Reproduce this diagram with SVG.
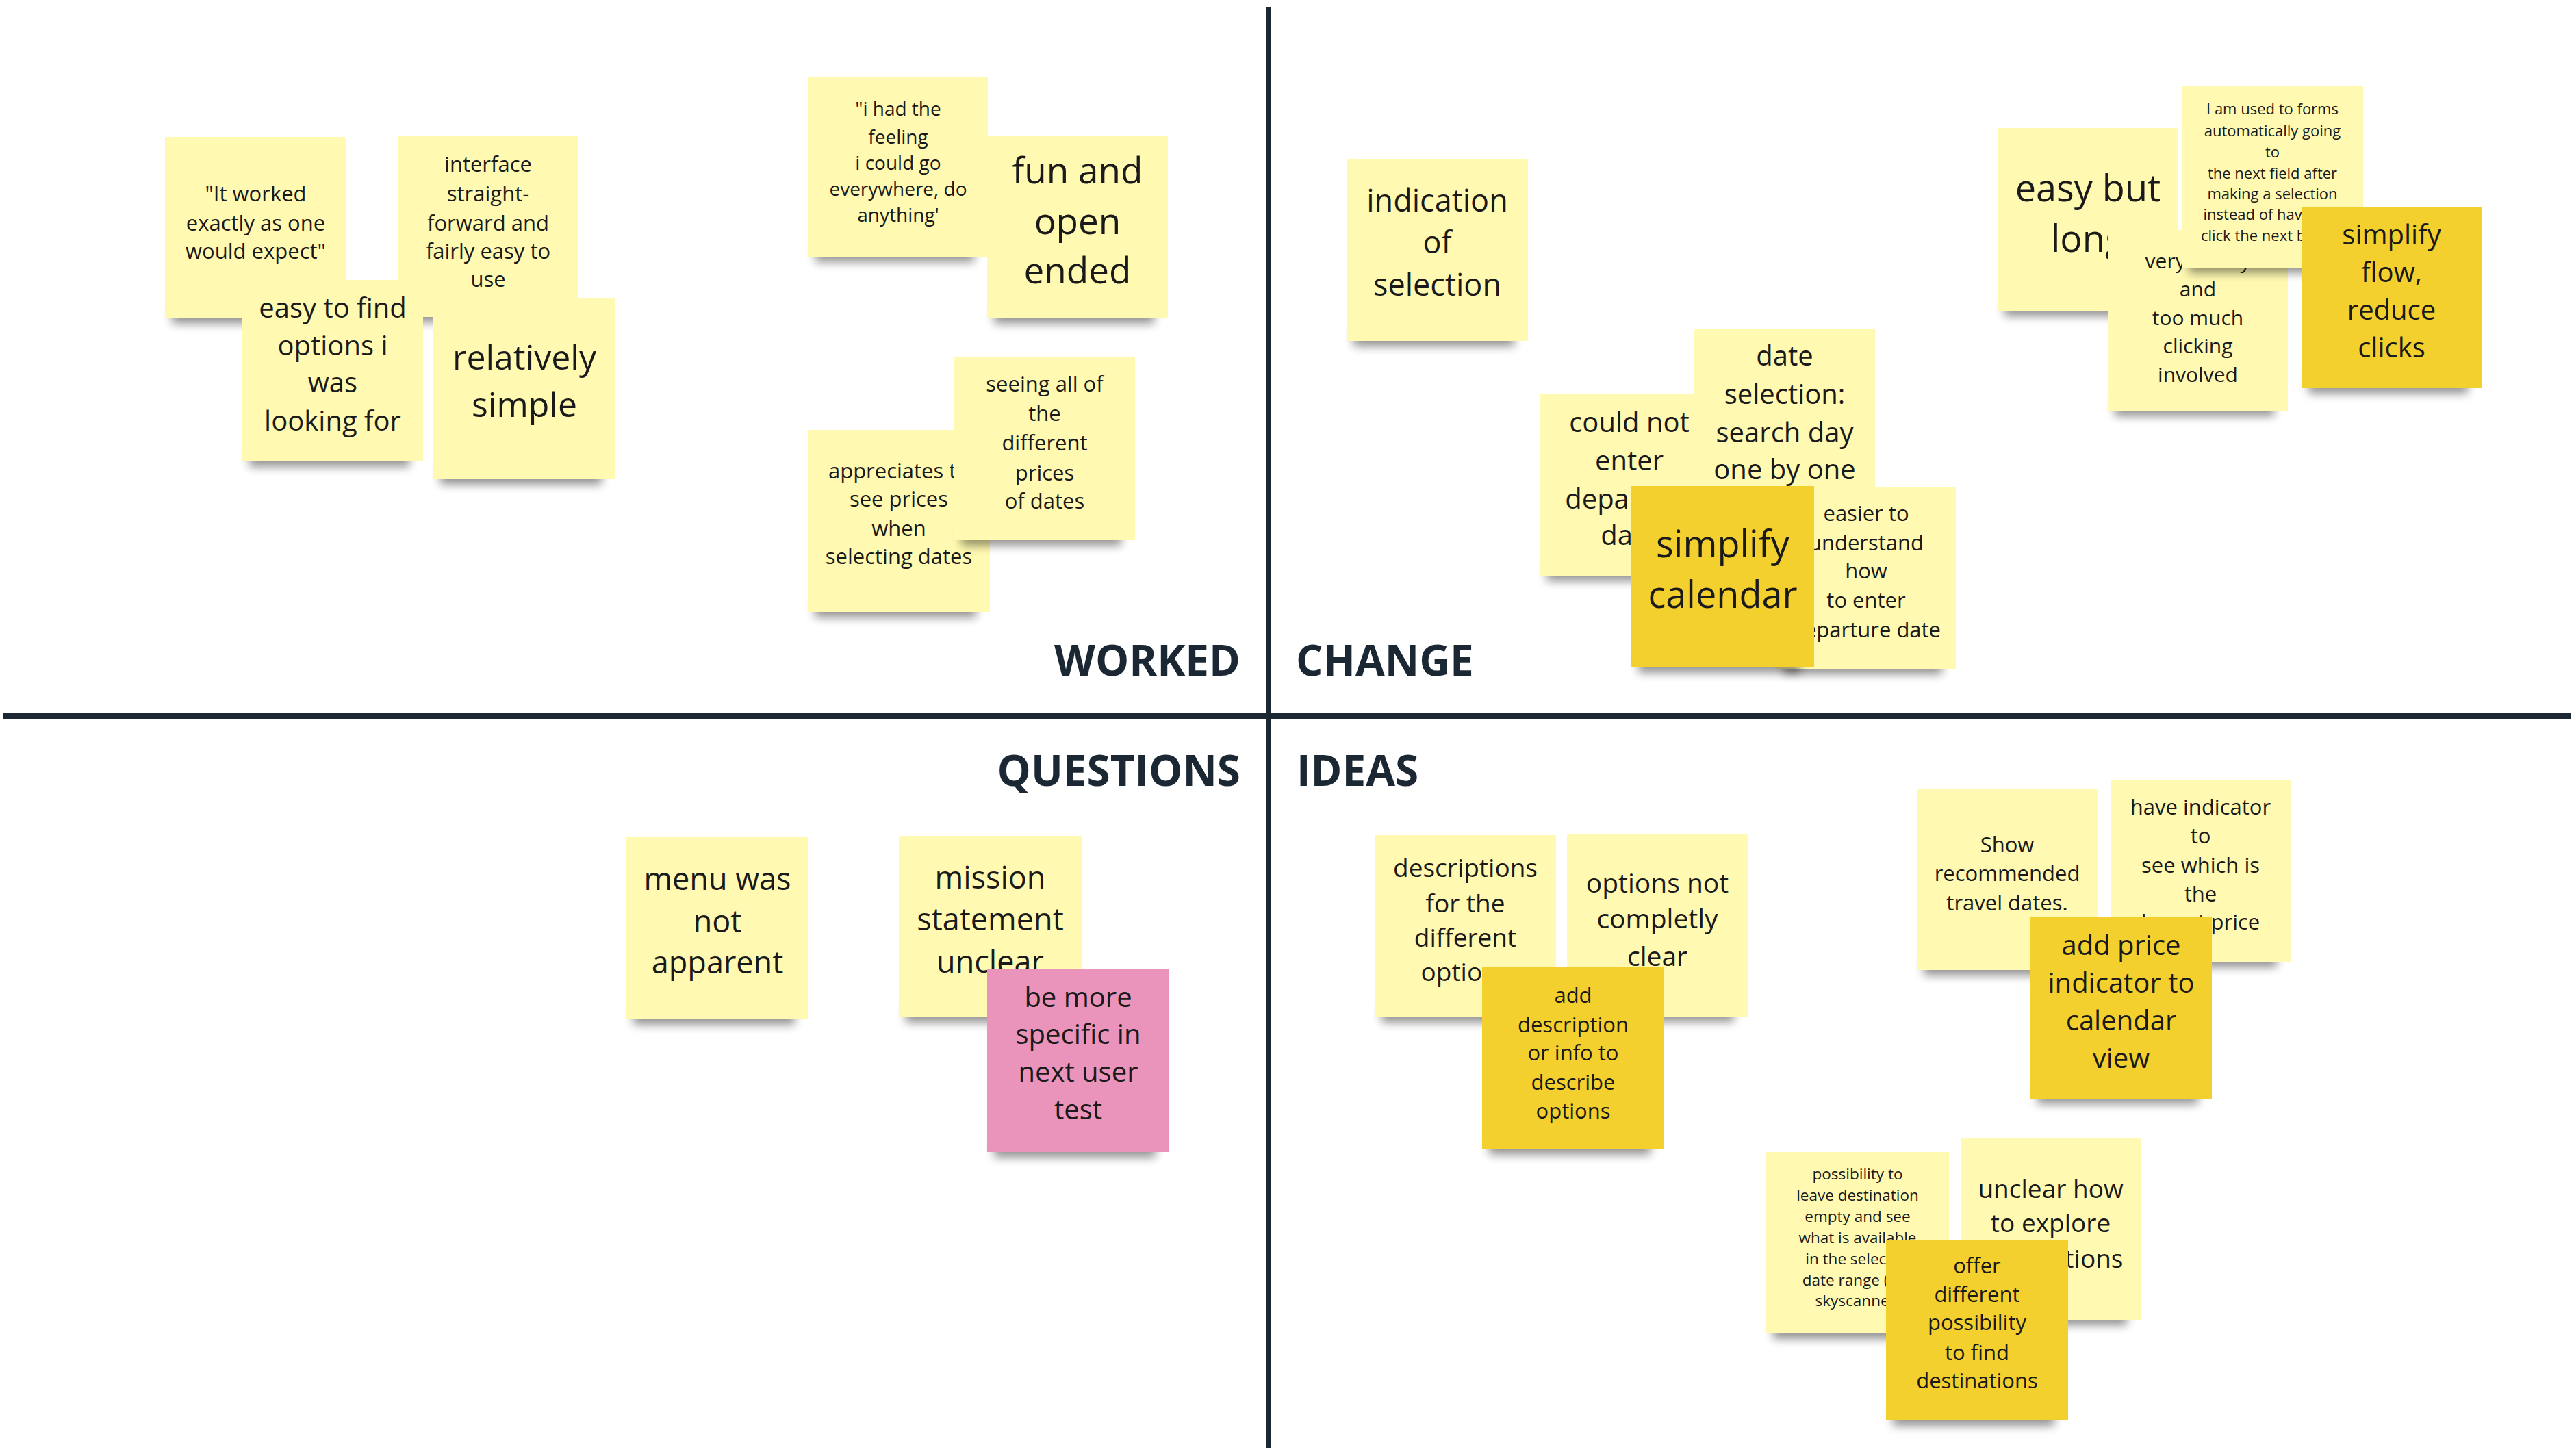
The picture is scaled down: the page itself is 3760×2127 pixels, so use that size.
<svg xmlns="http://www.w3.org/2000/svg" width="3760" height="2127" viewBox="0 0 3760 2127">
<defs>
<filter id="blur" x="-20%" y="-100%" width="140%" height="300%"><feGaussianBlur stdDeviation="7"/></filter>
<style>
.shd{fill:#000;opacity:.42;filter:url(#blur)}
.ly{fill:#FFF9B1}
.dy{fill:#F4D02E}
.pk{fill:#EA94BB}
text{font-family:'Open Sans','Noto Sans',sans-serif;fill:#1a1a1a;text-anchor:middle}
.lbl{font-weight:700;fill:#1b2834;font-size:62px}
.grid{stroke:#1b2834;fill:none}
</style>
</defs>
<rect width="3760" height="2127" fill="#fff"/>
<g id="connectors">
<line class="grid" stroke-width="8" x1="1853" y1="10" x2="1853" y2="2116"/>
<line class="grid" stroke-width="9" x1="4" y1="1046" x2="3756" y2="1046"/>
</g>
<g id="labels">
<text class="lbl" x="1812" y="987" style="text-anchor:end">WORKED</text>
<text class="lbl" x="1893" y="987" style="text-anchor:start">CHANGE</text>
<text class="lbl" x="1812" y="1148" style="text-anchor:end">QUESTIONS</text>
<text class="lbl" x="1894" y="1148" style="text-anchor:start">IDEAS</text>
</g>
<g id="n-worked-exactly">
<rect class="shd" x="251" y="447" width="235" height="26"/>
<rect class="ly" x="241" y="200" width="265" height="265"/>
<text font-size="31"><tspan x="373.5" y="294">"It worked</tspan><tspan x="373.5" y="337">exactly as one</tspan><tspan x="373.5" y="378">would expect"</tspan></text>
</g>
<g id="n-interface">
<rect class="shd" x="591" y="445" width="234" height="26"/>
<rect class="ly" x="581" y="199" width="264" height="264"/>
<text font-size="31"><tspan x="713" y="251">interface</tspan><tspan x="713" y="294">straight-</tspan><tspan x="713" y="337">forward and</tspan><tspan x="713" y="378">fairly easy to</tspan><tspan x="713" y="419">use</tspan></text>
</g>
<g id="n-easy-find">
<rect class="shd" x="364" y="656" width="234" height="26"/>
<rect class="ly" x="354" y="409" width="264" height="265"/>
<text font-size="40"><tspan x="486" y="464">easy to find</tspan><tspan x="486" y="519">options i</tspan><tspan x="486" y="573">was</tspan><tspan x="486" y="629">looking for</tspan></text>
</g>
<g id="n-relatively-simple">
<rect class="shd" x="643" y="682" width="236" height="26"/>
<rect class="ly" x="633" y="435" width="266" height="265"/>
<text font-size="50"><tspan x="766" y="540">relatively</tspan><tspan x="766" y="609">simple</tspan></text>
</g>
<g id="n-feeling">
<rect class="shd" x="1191" y="357" width="232" height="26"/>
<rect class="ly" x="1181" y="112" width="262" height="263"/>
<text font-size="28"><tspan x="1312" y="169">"i had the</tspan><tspan x="1312" y="210">feeling</tspan><tspan x="1312" y="248">i could go</tspan><tspan x="1312" y="286">everywhere, do</tspan><tspan x="1312" y="324">anything'</tspan></text>
</g>
<g id="n-fun-open">
<rect class="shd" x="1452" y="447" width="234" height="26"/>
<rect class="ly" x="1442" y="199" width="264" height="266"/>
<text font-size="53"><tspan x="1574" y="268">fun and</tspan><tspan x="1574" y="342">open</tspan><tspan x="1574" y="414">ended</tspan></text>
</g>
<g id="n-appreciates">
<rect class="shd" x="1190" y="876" width="236" height="26"/>
<rect class="ly" x="1180" y="628" width="266" height="266"/>
<text font-size="31"><tspan x="1313" y="699">appreciates to</tspan><tspan x="1313" y="740">see prices</tspan><tspan x="1313" y="783">when</tspan><tspan x="1313" y="824">selecting dates</tspan></text>
</g>
<g id="n-seeing-prices">
<rect class="shd" x="1404" y="771" width="234" height="26"/>
<rect class="ly" x="1394" y="522" width="264" height="267"/>
<text font-size="31"><tspan x="1526" y="572">seeing all of</tspan><tspan x="1526" y="615">the</tspan><tspan x="1526" y="658">different</tspan><tspan x="1526" y="702">prices</tspan><tspan x="1526" y="743">of dates</tspan></text>
</g>
<g id="n-indication">
<rect class="shd" x="1977" y="480" width="235" height="26"/>
<rect class="ly" x="1967" y="233" width="265" height="265"/>
<text font-size="45"><tspan x="2099.5" y="309">indication</tspan><tspan x="2099.5" y="370">of</tspan><tspan x="2099.5" y="432">selection</tspan></text>
</g>
<g id="n-could-not">
<rect class="shd" x="2259" y="823" width="232" height="26"/>
<rect class="ly" x="2249" y="576" width="262" height="265"/>
<text font-size="40"><tspan x="2380" y="631">could not</tspan><tspan x="2380" y="687">enter</tspan><tspan x="2380" y="743">departure</tspan><tspan x="2380" y="796">date</tspan></text>
</g>
<g id="n-date-selection">
<rect class="shd" x="2485" y="726" width="234" height="26"/>
<rect class="ly" x="2475" y="480" width="264" height="264"/>
<text font-size="40"><tspan x="2607" y="534">date</tspan><tspan x="2607" y="590">selection:</tspan><tspan x="2607" y="646">search day</tspan><tspan x="2607" y="700">one by one</tspan></text>
</g>
<g id="n-easier">
<rect class="shd" x="2605" y="959" width="232" height="26"/>
<rect class="ly" x="2595" y="711" width="262" height="266"/>
<text font-size="31"><tspan x="2726" y="761">easier to</tspan><tspan x="2726" y="804">understand</tspan><tspan x="2726" y="845">how</tspan><tspan x="2726" y="888">to enter</tspan><tspan x="2726" y="931">departure date</tspan></text>
</g>
<g id="n-simplify-calendar">
<rect class="shd" x="2393" y="957" width="237" height="26"/>
<rect class="dy" x="2383" y="710" width="267" height="265"/>
<text font-size="54"><tspan x="2516.5" y="814">simplify</tspan><tspan x="2516.5" y="888">calendar</tspan></text>
</g>
<g id="n-easy-long">
<rect class="shd" x="2928" y="436" width="234" height="26"/>
<rect class="ly" x="2918" y="187" width="264" height="267"/>
<text font-size="54"><tspan x="3050" y="294">easy but</tspan><tspan x="3050" y="368">long</tspan></text>
</g>
<g id="n-wordy">
<rect class="shd" x="3089" y="582" width="233" height="26"/>
<rect class="ly" x="3079" y="336" width="263" height="264"/>
<text font-size="30"><tspan x="3210.5" y="392">very wordy</tspan><tspan x="3210.5" y="433">and</tspan><tspan x="3210.5" y="475">too much</tspan><tspan x="3210.5" y="516">clicking</tspan><tspan x="3210.5" y="558">involved</tspan></text>
</g>
<g id="n-used-to-forms">
<rect class="shd" x="3197" y="373" width="235" height="26"/>
<rect class="ly" x="3187" y="125" width="265" height="266"/>
<text font-size="22"><tspan x="3319.5" y="167">I am used to forms</tspan><tspan x="3319.5" y="199">automatically going</tspan><tspan x="3319.5" y="230">to</tspan><tspan x="3319.5" y="261">the next field after</tspan><tspan x="3319.5" y="291">making a selection</tspan><tspan x="3319.5" y="321">instead of having to</tspan><tspan x="3319.5" y="352">click the next button</tspan></text>
</g>
<g id="n-simplify-flow">
<rect class="shd" x="3372" y="549" width="233" height="26"/>
<rect class="dy" x="3362" y="303" width="263" height="264"/>
<text font-size="40"><tspan x="3493.5" y="357">simplify</tspan><tspan x="3493.5" y="412">flow,</tspan><tspan x="3493.5" y="467">reduce</tspan><tspan x="3493.5" y="522">clicks</tspan></text>
</g>
<g id="n-menu">
<rect class="shd" x="925" y="1471" width="236" height="26"/>
<rect class="ly" x="915" y="1223" width="266" height="266"/>
<text font-size="45"><tspan x="1048" y="1300">menu was</tspan><tspan x="1048" y="1362">not</tspan><tspan x="1048" y="1422">apparent</tspan></text>
</g>
<g id="n-mission">
<rect class="shd" x="1323" y="1468" width="237" height="26"/>
<rect class="ly" x="1313" y="1222" width="267" height="264"/>
<text font-size="45"><tspan x="1446.5" y="1298">mission</tspan><tspan x="1446.5" y="1359">statement</tspan><tspan x="1446.5" y="1421">unclear</tspan></text>
</g>
<g id="n-be-specific">
<rect class="shd" x="1452" y="1665" width="236" height="26"/>
<rect class="pk" x="1442" y="1416" width="266" height="267"/>
<text font-size="40"><tspan x="1575" y="1471">be more</tspan><tspan x="1575" y="1525">specific in</tspan><tspan x="1575" y="1580">next user</tspan><tspan x="1575" y="1635">test</tspan></text>
</g>
<g id="n-descriptions">
<rect class="shd" x="2018" y="1468" width="235" height="26"/>
<rect class="ly" x="2008" y="1220" width="265" height="266"/>
<text font-size="37"><tspan x="2140.5" y="1281">descriptions</tspan><tspan x="2140.5" y="1333">for the</tspan><tspan x="2140.5" y="1383">different</tspan><tspan x="2140.5" y="1433">options</tspan></text>
</g>
<g id="n-options-not">
<rect class="shd" x="2299" y="1467" width="234" height="26"/>
<rect class="ly" x="2289" y="1219" width="264" height="266"/>
<text font-size="39"><tspan x="2421" y="1304">options not</tspan><tspan x="2421" y="1356">completly</tspan><tspan x="2421" y="1411">clear</tspan></text>
</g>
<g id="n-add-description">
<rect class="shd" x="2175" y="1661" width="236" height="26"/>
<rect class="dy" x="2165" y="1413" width="266" height="266"/>
<text font-size="31"><tspan x="2298" y="1465">add</tspan><tspan x="2298" y="1508">description</tspan><tspan x="2298" y="1549">or info to</tspan><tspan x="2298" y="1592">describe</tspan><tspan x="2298" y="1634">options</tspan></text>
</g>
<g id="n-show-dates">
<rect class="shd" x="2810" y="1399" width="234" height="26"/>
<rect class="ly" x="2800" y="1152" width="264" height="265"/>
<text font-size="31"><tspan x="2932" y="1245">Show</tspan><tspan x="2932" y="1287">recommended</tspan><tspan x="2932" y="1330">travel dates.</tspan></text>
</g>
<g id="n-have-indicator">
<rect class="shd" x="3093" y="1387" width="233" height="26"/>
<rect class="ly" x="3083" y="1139" width="263" height="266"/>
<text font-size="31"><tspan x="3214.5" y="1190">have indicator</tspan><tspan x="3214.5" y="1232">to</tspan><tspan x="3214.5" y="1275">see which is</tspan><tspan x="3214.5" y="1317">the</tspan><tspan x="3214.5" y="1358">lowest price</tspan></text>
</g>
<g id="n-add-price">
<rect class="shd" x="2976" y="1587" width="235" height="26"/>
<rect class="dy" x="2966" y="1340" width="265" height="265"/>
<text font-size="40"><tspan x="3098.5" y="1395">add price</tspan><tspan x="3098.5" y="1450">indicator to</tspan><tspan x="3098.5" y="1505">calendar</tspan><tspan x="3098.5" y="1560">view</tspan></text>
</g>
<g id="n-possibility">
<rect class="shd" x="2590" y="1930" width="237" height="26"/>
<rect class="ly" x="2580" y="1683" width="267" height="265"/>
<text font-size="22.5"><tspan x="2713.5" y="1723">possibility to</tspan><tspan x="2713.5" y="1754">leave destination</tspan><tspan x="2713.5" y="1785">empty and see</tspan><tspan x="2713.5" y="1816">what is available</tspan><tspan x="2713.5" y="1847">in the selected</tspan><tspan x="2713.5" y="1878">date range (like</tspan><tspan x="2713.5" y="1908">skyscanner)</tspan></text>
</g>
<g id="n-unclear-explore">
<rect class="shd" x="2874" y="1910" width="233" height="26"/>
<rect class="ly" x="2864" y="1663" width="263" height="265"/>
<text font-size="37"><tspan x="2995.5" y="1750">unclear how</tspan><tspan x="2995.5" y="1800">to explore</tspan><tspan x="2995.5" y="1852">destinations</tspan></text>
</g>
<g id="n-offer">
<rect class="shd" x="2765" y="2057" width="236" height="26"/>
<rect class="dy" x="2755" y="1812" width="266" height="263"/>
<text font-size="31"><tspan x="2888" y="1860">offer</tspan><tspan x="2888" y="1902">different</tspan><tspan x="2888" y="1943">possibility</tspan><tspan x="2888" y="1987">to find</tspan><tspan x="2888" y="2028">destinations</tspan></text>
</g>
</svg>
